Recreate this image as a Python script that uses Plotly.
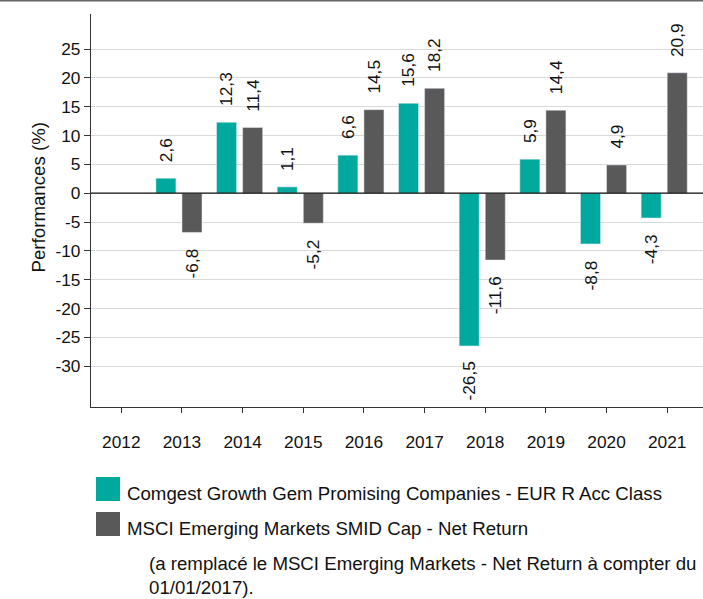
import plotly.graph_objects as go

years = ["2012", "2013", "2014", "2015", "2016", "2017", "2018", "2019", "2020", "2021"]
fund = [None, 2.6, 12.3, 1.1, 6.6, 15.6, -26.5, 5.9, -8.8, -4.3]
index = [None, -6.8, 11.4, -5.2, 14.5, 18.2, -11.6, 14.4, 4.9, 20.9]
fund_name = "Comgest Growth Gem Promising Companies - EUR R Acc Class"
index_name = "MSCI Emerging Markets SMID Cap - Net Return"
footnote = ["(a remplacé le MSCI Emerging Markets - Net Return à compter du", "01/01/2017)."]
yticks = [25, 20, 15, 10, 5, 0, -5, -10, -15, -20, -25, -30]

TEAL = "#00A99D"
GREY = "#595959"
FONT = "Liberation Sans, Arial, sans-serif"
TXT = "#111111"

W, H = 703, 599
L, R, T, B = 91, 0, 14, 192
PW, PH = W - L - R, H - T - B


def px(x):
    return (x - L) / PW


def py(y):
    return (H - B - y) / PH


fig = go.Figure()
fig.add_trace(go.Bar(x=years, y=fund, name=fund_name, marker_color=TEAL,
                     width=0.33, offset=-0.43, showlegend=False))
fig.add_trace(go.Bar(x=years, y=index, name=index_name, marker_color=GREY,
                     width=0.33, offset=0.0, showlegend=False))

ann = []
for i, yr in enumerate(years):
    for vals, off in ((fund, -0.43), (index, 0.0)):
        v = vals[i]
        if v is None:
            continue
        ann.append(dict(x=i + off + 0.165, y=v, xref="x", yref="y",
                        text=f"{v:.1f}".replace(".", ","), showarrow=False,
                        textangle=-90, font=dict(size=17.3, color=TXT, family=FONT),
                        yanchor="bottom" if v >= 0 else "top",
                        yshift=14 if v >= 0 else -14))

ann.append(dict(x=px(25), y=py(197), xref="paper", yref="paper", text="Performances (%)",
                showarrow=False, textangle=-90, font=dict(size=18.7, color=TXT, family=FONT)))

LF = 18.67
leg = [(fund_name, TEAL, 477, 501, 491.5), (index_name, GREY, 512, 536, 526.5)]
shapes = []
for name, col, y0, y1, yc in leg:
    shapes.append(dict(type="rect", xref="paper", yref="paper", x0=px(96), x1=px(120),
                       y0=py(y1), y1=py(y0), fillcolor=col, line=dict(width=0)))
    ann.append(dict(x=px(125), y=py(yc + 2), xref="paper", yref="paper", text=name,
                    showarrow=False, xanchor="left", yanchor="middle",
                    font=dict(size=LF, color=TXT, family=FONT)))
for line, yc in zip(footnote, [563, 587]):
    ann.append(dict(x=px(147), y=py(yc), xref="paper", yref="paper", text=line,
                    showarrow=False, xanchor="left", yanchor="middle",
                    font=dict(size=LF, color=TXT, family=FONT)))

shapes.append(dict(type="line", xref="paper", yref="paper", x0=px(0), x1=px(W),
                   y0=py(0.5), y1=py(0.5), line=dict(color="#666", width=2)))
shapes.append(dict(type="line", xref="paper", yref="y", x0=0, x1=1, y0=0, y1=0,
                   line=dict(color="#111", width=1.3)))

fig.update_layout(
    width=W, height=H, margin=dict(l=L, r=R, t=T, b=B),
    paper_bgcolor="white", plot_bgcolor="white",
    font=dict(family=FONT, size=17.3, color=TXT),
    barmode="overlay",
    annotations=ann, shapes=shapes,
    xaxis=dict(range=[-0.5, 9.59], showgrid=False, showline=True, linecolor="#333",
               linewidth=1.3, ticks="outside", ticklen=5, tickcolor="#333",
               tickfont=dict(size=17.3), ticklabelstandoff=14),
    yaxis=dict(range=[-37.1, 31.1], tickvals=yticks,
               ticktext=[str(t) for t in yticks], showgrid=True, gridcolor="#d9d9d9",
               gridwidth=1.3, zeroline=False, showline=True, linecolor="#333", linewidth=1.3,
               ticks="outside", ticklen=6, tickcolor="#333", tickfont=dict(size=17.3)),
)

fig.write_html("out.html")
